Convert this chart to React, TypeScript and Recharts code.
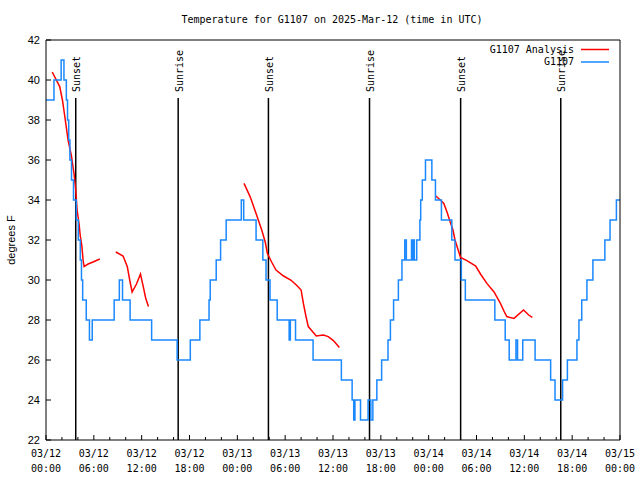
import React from "react";
import { LineChart, Line, XAxis, YAxis, ReferenceLine, Legend } from "recharts";

// station observations, step values (hours since 03/12 00:00 UTC, degrees F)
const OBS_HOURS = [
  0, 1.0, 1.9, 2.25, 2.55, 2.7, 2.85, 3.0, 3.2, 3.45, 3.8, 4.05, 4.3, 4.45, 4.6, 5.05, 5.45, 5.8,
  8.55, 9.2, 9.6, 10.55, 13.25, 16.45, 18.1, 19.3, 20.45, 20.6, 21.35, 21.9, 22.6, 24.5, 24.8,
  26.35, 27.2, 27.6, 28.1, 29.0, 30.5, 30.65, 31.3, 33.5, 37.05, 38.4, 38.6, 38.75, 39.45, 40.4,
  40.75, 41.0, 41.5, 42.1, 42.9, 43.2, 43.6, 44.2, 44.65, 45.0, 45.2, 45.85, 45.95, 46.1, 46.2,
  46.5, 46.9, 47.0, 47.2, 47.6, 48.4, 48.85, 49.6, 50.9, 51.3, 52.1, 52.6, 56.3, 57.6, 58.1,
  58.95, 59.15, 59.8, 61.35, 63.3, 63.85, 64.8, 65.4, 66.6, 66.85, 67.2, 67.85, 68.6, 70.1, 70.75,
  71.55, 72,
];
const OBS_TEMPS = [
  39, 40, 41, 40, 39, 38, 37, 36, 35, 34, 33, 32, 31, 30, 29, 28, 27, 28,
  29, 30, 29, 28, 27, 26, 27, 28, 29, 30, 31, 32, 33, 34, 33,
  32, 31, 30, 29, 28, 27, 28, 27, 26, 25, 24, 23, 24, 23, 24,
  23, 24, 25, 26, 27, 28, 29, 30, 31, 32, 31, 32, 31, 32, 31,
  32, 33, 34, 35, 36, 35, 34, 33, 32, 31, 30, 29, 28, 27, 26,
  27, 26, 27, 26, 25, 24, 25, 26, 27, 28, 29, 30, 31, 32, 33,
  34, 34,
];

// model analysis, null marks a gap between runs
const ANALYSIS_HOURS = [
  0.78, 1.72, 2.06, 2.35, 2.77, 3.19, 3.52, 3.73, 3.9, 4.15, 4.3, 4.5, 4.65, 4.78, 5.28, 5.9, 6.75,
  7.5,
  8.75, 9.67, 10.2, 10.5, 10.8, 11.35, 11.85, 12.2, 12.5, 12.85,
  18,
  24.84, 25.6, 26.35, 27.06, 27.5, 27.77, 28.3, 28.85, 29.8, 30.7, 31.4, 32.0, 32.3, 32.6, 32.9,
  33.9, 34.8, 35.4, 36.05, 36.8,
  42,
  48.9, 49.46, 49.9, 50.3, 50.7, 51.05, 51.3, 51.7, 52.0, 52.8, 53.9, 54.5, 55.3, 56.2, 57.0,
  57.5, 57.8, 58.7, 59.9, 60.55, 61.0,
];
const ANALYSIS_TEMPS = [
  40.4, 39.67, 39.0, 38.2, 37.0, 36.2, 35.3, 34.5, 33.5, 32.8, 32.2, 31.7, 31.0, 30.67, 30.8, 30.9, 31.05,
  null,
  31.4, 31.2, 30.67, 30.0, 29.4, 29.8, 30.3, 29.67, 29.1, 28.67,
  null,
  34.83, 34.17, 33.33, 32.5, 31.9, 31.33, 30.9, 30.5, 30.2, 30.0, 29.75, 29.5, 28.8, 28.2, 27.67,
  27.2, 27.25, 27.17, 26.97, 26.63,
  null,
  34.2, 34.0, 33.83, 33.4, 32.9, 32.5, 32.0, 31.5, 31.13, 30.97, 30.7, 30.3, 29.83, 29.4, 28.83,
  28.4, 28.17, 28.08, 28.5, 28.25, 28.13,
];

const SUNSET_HOURS = [3.73, 27.9, 52.01];
const SUNRISE_HOURS = [16.58, 40.58, 64.57];

const X_TICKS = Array.from({ length: 37 }, (_, i) => i * 2);
const LABEL_HOURS = [0, 6, 12, 18, 24, 30, 36, 42, 48, 54, 60, 66, 72];
const LABEL_DAYS = ["03/12", "03/12", "03/12", "03/12", "03/13", "03/13", "03/13", "03/13", "03/14", "03/14", "03/14", "03/14", "03/15"];
const LABEL_TIMES = ["00:00", "06:00", "12:00", "18:00", "00:00", "06:00", "12:00", "18:00", "00:00", "06:00", "12:00", "18:00", "00:00"];
const Y_TICKS = [22, 24, 26, 28, 30, 32, 34, 36, 38, 40, 42];

const obsData = OBS_HOURS.map((h, i) => ({ h, v: OBS_TEMPS[i] }));
const analysisData = ANALYSIS_HOURS.map((h, i) => ({ h, v: ANALYSIS_TEMPS[i] }));

const MONO = "'DejaVu Sans Mono', monospace";
const SANS = "'Liberation Sans', Arial, sans-serif";
const BLUE = "#1a88ff";
const RED = "#ff0000";

const BottomTick = ({ x, y, payload }: any) => {
  const h = payload.value;
  const idx = LABEL_HOURS.indexOf(h);
  return (
    <g>
      <line x1={x} x2={x} y1={y} y2={y - (h % 6 === 0 ? 5 : 3)} stroke="#000" />
      {idx >= 0 && (
        <text fontFamily={MONO} fontSize={10} fill="#000" textAnchor="middle">
          <tspan x={x} y={y + 17}>{LABEL_DAYS[idx]}</tspan>
          <tspan x={x} y={y + 32}>{LABEL_TIMES[idx]}</tspan>
        </text>
      )}
    </g>
  );
};

const TopTick = ({ x, y, payload }: any) => (
  <line x1={x} x2={x} y1={y} y2={y + (payload.value % 6 === 0 ? 5 : 3)} stroke="#000" />
);

const LeftTick = ({ x, y, payload }: any) => (
  <g>
    <line x1={x} x2={x + 5} y1={y} y2={y} stroke="#000" />
    <text x={x - 6} y={y + 4} textAnchor="end" fontFamily={SANS} fontSize={11} fill="#000">
      {payload.value}
    </text>
  </g>
);

const RightTick = ({ x, y }: any) => <line x1={x} x2={x - 5} y1={y} y2={y} stroke="#000" />;

const SunLabel = ({ viewBox, text }: any) => {
  const x = viewBox.x + 1;
  const y = viewBox.y - 6;
  return (
    <text
      x={x}
      y={y}
      transform={`rotate(-90 ${x} ${y})`}
      dominantBaseline="central"
      fontFamily={MONO}
      fontSize={10}
      fill="#000"
    >
      {text}
    </text>
  );
};

const LegendBox = () => (
  <svg width={150} height={30} style={{ display: "block" }}>
    <text x={94} y={13} textAnchor="end" fontFamily={MONO} fontSize={10} fill="#000">G1107 Analysis</text>
    <line x1={101} x2={129} y1={9.5} y2={9.5} stroke={RED} strokeWidth={1.5} />
    <text x={94} y={25} textAnchor="end" fontFamily={MONO} fontSize={10} fill="#000">G1107</text>
    <line x1={101} x2={129} y1={22} y2={22} stroke={BLUE} strokeWidth={1.5} />
  </svg>
);

export default function App() {
  return (
    <div style={{ position: "absolute", left: 0, top: 0, width: 640, height: 480, background: "#fff" }}>
      <LineChart width={640} height={480} margin={{ top: 0, right: 0, bottom: 0, left: 0 }}>
        <text x={332} y={23} textAnchor="middle" fontFamily={MONO} fontSize={10} fill="#000">
          Temperature for G1107 on 2025-Mar-12 (time in UTC)
        </text>
        <XAxis
          dataKey="h"
          type="number"
          domain={[0, 72]}
          ticks={X_TICKS}
          interval={0}
          height={40}
          tickSize={0}
          tickMargin={0}
          tickLine={false}
          axisLine={{ stroke: "#000" }}
          tick={<BottomTick />}
        />
        <XAxis
          xAxisId="top"
          orientation="top"
          dataKey="h"
          type="number"
          domain={[0, 72]}
          ticks={X_TICKS}
          interval={0}
          height={40}
          tickSize={0}
          tickMargin={0}
          tickLine={false}
          axisLine={{ stroke: "#000" }}
          tick={<TopTick />}
        />
        <YAxis
          type="number"
          domain={[22, 42]}
          ticks={Y_TICKS}
          interval={0}
          width={46}
          tickSize={0}
          tickMargin={0}
          tickLine={false}
          axisLine={{ stroke: "#000" }}
          tick={<LeftTick />}
          label={{
            value: "degrees F",
            angle: -90,
            position: "insideLeft",
            offset: 11,
            style: { fontFamily: SANS, fontSize: 11, fill: "#000", textAnchor: "middle" },
          }}
        />
        <YAxis
          yAxisId="right"
          orientation="right"
          type="number"
          domain={[22, 42]}
          ticks={Y_TICKS}
          interval={0}
          width={20}
          tickSize={0}
          tickMargin={0}
          tickLine={false}
          axisLine={{ stroke: "#000" }}
          tick={<RightTick />}
        />
        {SUNSET_HOURS.map((h) => (
          <ReferenceLine
            key={"ss" + h}
            segment={[{ x: h, y: 22 }, { x: h, y: 39.1 }]}
            stroke="#000"
            strokeWidth={1.5}
            label={<SunLabel text="Sunset" />}
          />
        ))}
        {SUNRISE_HOURS.map((h) => (
          <ReferenceLine
            key={"sr" + h}
            segment={[{ x: h, y: 22 }, { x: h, y: 39.1 }]}
            stroke="#000"
            strokeWidth={1.5}
            label={<SunLabel text="Sunrise" />}
          />
        ))}
        <Line
          data={analysisData}
          dataKey="v"
          name="G1107 Analysis"
          type="linear"
          stroke={RED}
          strokeWidth={1.5}
          dot={false}
          connectNulls={false}
          isAnimationActive={false}
        />
        <Line
          data={obsData}
          dataKey="v"
          name="G1107"
          type="stepAfter"
          stroke={BLUE}
          strokeWidth={1.5}
          dot={false}
          isAnimationActive={false}
        />
        <Legend
          layout="horizontal"
          verticalAlign="middle"
          align="center"
          content={<LegendBox />}
          wrapperStyle={{ position: "absolute", left: 480, top: 40, width: 150, height: 30 }}
        />
      </LineChart>
    </div>
  );
}
